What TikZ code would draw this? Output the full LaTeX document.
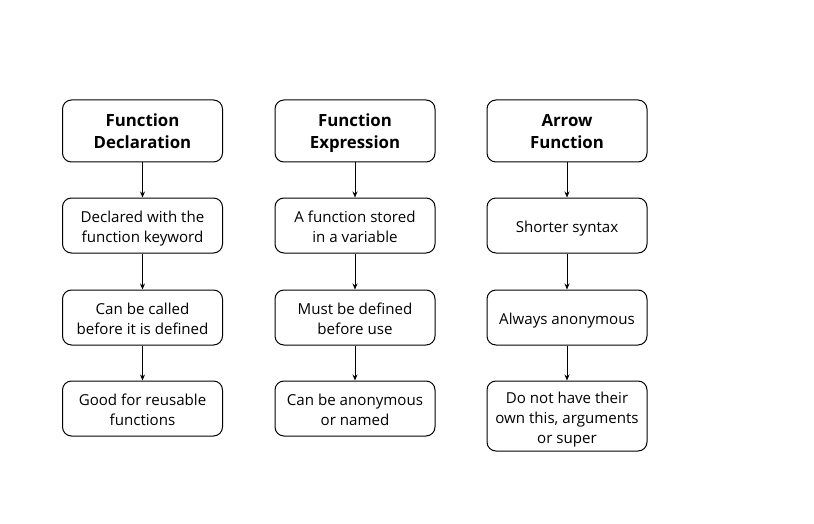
\documentclass[tikz,border=0pt]{standalone}
\usepackage{fontspec}
\setmainfont{Open Sans}
\usetikzlibrary{arrows.meta}
\newcommand\sx{\strut}
\newcommand\mytb{\rule{0pt}{20pt}}
\newcommand\myth{\rule{0pt}{19pt}}
\begin{document}
\begin{tikzpicture}[x=1pt,y=-1pt,
  box/.style={draw=black,line width=1pt,rounded corners=9pt,minimum width=160pt,align=center,inner sep=0pt,font=\fontsize{15.1}{20}\selectfont},
  hbox/.style={box,minimum height=62pt,font=\fontsize{16.8}{21.5}\selectfont\bfseries},
  bbox/.style={box,minimum height=55pt},
  arr/.style={-{Stealth[length=6pt,width=5pt]},line width=0.9pt,draw=black}]
\useasboundingbox (0,0) rectangle (814,524);
% column 1
\node[hbox] (a1) at (142.5,131) {\myth Function\\Declaration\sx};
\node[bbox] (a2) at (142.5,225.5) {\mytb Declared with the\\function keyword\sx};
\node[bbox] (a3) at (142.5,317.5) {\mytb Can be called\\before it is defined\sx};
\node[bbox] (a4) at (142.5,408.5) {\mytb Good for reusable\\functions\sx};
% column 2
\node[hbox] (b1) at (355,131) {\myth Function\\Expression\sx};
\node[bbox] (b2) at (355,225.5) {\mytb A function stored\\in a variable\sx};
\node[bbox] (b3) at (355,317.5) {\mytb Must be defined\\before use\sx};
\node[bbox] (b4) at (355,408.5) {\mytb Can be anonymous\\or named\sx};
% column 3
\node[hbox] (c1) at (567,131) {\myth Arrow\\Function\sx};
\node[bbox] (c2) at (567,225.5) {\mytb Shorter syntax\sx};
\node[bbox] (c3) at (567,317.5) {\mytb Always anonymous\sx};
\node[box,minimum height=70pt] (c4) at (567,416) {\mytb Do not have their\\own this, arguments\\or super\sx};
\foreach \c in {a,b,c}{
  \draw[arr] (\c1) -- (\c2);
  \draw[arr] (\c2) -- (\c3);
  \draw[arr] (\c3) -- (\c4);
}
\end{tikzpicture}
\end{document}
